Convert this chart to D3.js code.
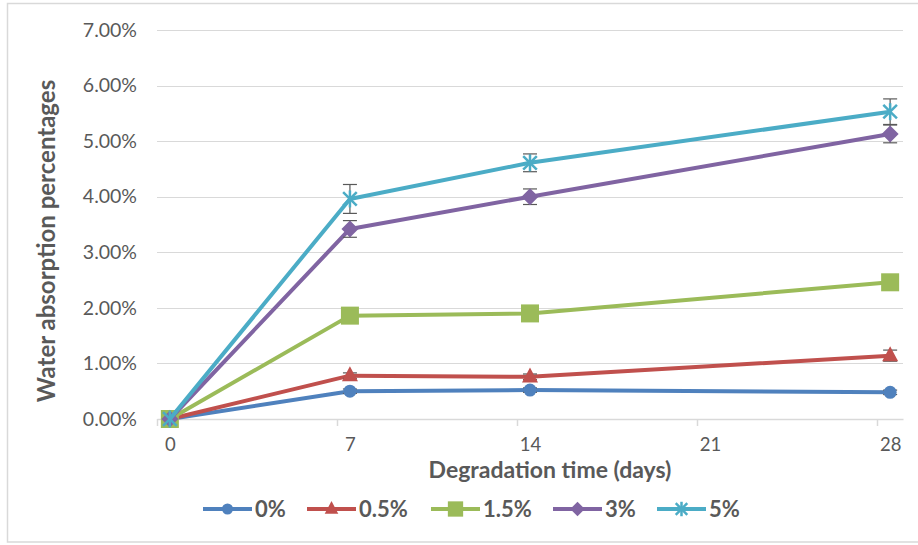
<!DOCTYPE html>
<html><head><meta charset="utf-8">
<script src="https://cdn.jsdelivr.net/npm/d3@7"></script>
<style>body{margin:0;background:#fff}svg{display:block}</style>
</head><body><svg id="c" width="918" height="545"></svg>
<script>
const days = [0, 7, 14, 28];
const xTicks = [0, 7, 14, 21, 28];
const yTicks = [0, 1, 2, 3, 4, 5, 6, 7];
const seriesNames = ["0%", "0.5%", "1.5%", "3%", "5%"];
const colors = ["#4F81BD", "#C0504D", "#9BBB59", "#8064A2", "#4BACC6"];
const markers = ["circle", "triangle", "square", "diamond", "star"];
const v0 = [0, 0.50, 0.52, 0.48];
const v05 = [0, 0.78, 0.76, 1.14];
const v15 = [0, 1.86, 1.90, 2.46];
const v3 = [0, 3.42, 4.00, 5.13];
const v5 = [0, 3.96, 4.61, 5.53];
const e0 = [0, 0.04, 0.04, 0.04];
const e05 = [0, 0.05, 0.05, 0.10];
const e15 = [0, 0.05, 0.05, 0.05];
const e3 = [0, 0.15, 0.14, 0.16];
const e5 = [0, 0.26, 0.16, 0.23];
const values = [v0, v05, v15, v3, v5];
const errors = [e0, e05, e15, e3, e5];

const svg = d3.select("#c");
const font = "Lato, 'Open Sans', sans-serif";
const grey = "#595959";

svg.append("rect").attr("x", 7.5).attr("y", 3.5).attr("width", 920).attr("height", 538.5)
  .attr("fill", "#fff").attr("stroke", "#d9d9d9").attr("stroke-width", 1.5);

const x = d3.scaleLinear().domain([-0.5, 28.5]).range([157, 903]);
const y = d3.scaleLinear().domain([0, 7]).range([419, 30]);

// gridlines
svg.append("g").selectAll("line").data(yTicks.slice(1)).join("line")
  .attr("x1", x(-0.5)).attr("x2", x(28.5))
  .attr("y1", d => Math.round(y(d)) + 0.5).attr("y2", d => Math.round(y(d)) + 0.5)
  .attr("stroke", "#d9d9d9").attr("stroke-width", 1);

// y axis labels
const yAxis = d3.axisLeft(y).tickValues(yTicks).tickSize(0).tickPadding(0)
  .tickFormat(d => d3.format(".2f")(d) + "%");
const gy = svg.append("g").attr("transform", "translate(137,0)").call(yAxis);
gy.select(".domain").remove();
gy.selectAll("text").attr("fill", grey).style("font-family", font).style("font-size", "19.5px");

// x axis
const xAxis = d3.axisBottom(x).tickValues(xTicks).tickSize(0).tickPadding(0).tickFormat(d3.format("d"));
const gx = svg.append("g").attr("transform", "translate(0,419)").call(xAxis);
gx.select(".domain").attr("stroke", "#d9d9d9").attr("stroke-width", 1.5);
gx.selectAll("text").attr("fill", grey).attr("dy", "0").attr("y", 31.5)
  .style("font-family", font).style("font-size", "18.5px");
svg.append("g").selectAll("line").data(xTicks).join("line")
  .attr("x1", d => Math.round(x(d - 0.5)) + 0.5).attr("x2", d => Math.round(x(d - 0.5)) + 0.5)
  .attr("y1", 419).attr("y2", 426).attr("stroke", "#d9d9d9").attr("stroke-width", 1.5);

// axis titles
svg.append("text").attr("x", 550).attr("y", 477.5).attr("text-anchor", "middle")
  .attr("fill", grey).style("font-family", font).style("font-weight", "bold").style("font-size", "23px")
  .text("Degradation time (days)");
svg.append("text").attr("transform", "translate(55,241) rotate(-90)").attr("text-anchor", "middle")
  .attr("fill", grey).style("font-family", font).style("font-weight", "bold").style("font-size", "24px")
  .text("Water absorption percentages");

function drawMarker(g, type, cx, cy, color, scale) {
  const s = scale || 1;
  if (type === "circle") {
    g.append("circle").attr("cx", cx).attr("cy", cy).attr("r", 6.5 * s).attr("fill", color);
  } else if (type === "triangle") {
    const h = 15 * s, w = 16 * s;
    g.append("path").attr("d", `M${cx},${cy - h * 0.62} L${cx + w / 2},${cy + h * 0.38} L${cx - w / 2},${cy + h * 0.38}Z`).attr("fill", color);
  } else if (type === "square") {
    const a = 18 * s;
    g.append("rect").attr("x", cx - a / 2).attr("y", cy - a / 2).attr("width", a).attr("height", a).attr("fill", color);
  } else if (type === "diamond") {
    const a = 8.5 * s;
    g.append("path").attr("d", `M${cx},${cy - a} L${cx + a},${cy} L${cx},${cy + a} L${cx - a},${cy}Z`).attr("fill", color);
  } else if (type === "star") {
    const a = 8.5 * s;
    const gg = g.append("g").attr("stroke", color).attr("stroke-width", 2.5);
    gg.append("line").attr("x1", cx).attr("x2", cx).attr("y1", cy - a).attr("y2", cy + a);
    const d = a * 0.8;
    gg.append("line").attr("x1", cx - d).attr("y1", cy - d).attr("x2", cx + d).attr("y2", cy + d);
    gg.append("line").attr("x1", cx - d).attr("y1", cy + d).attr("x2", cx + d).attr("y2", cy - d);
  }
}

const line = d3.line().x((d, i) => x(days[i])).y(d => y(d));
values.forEach((vals, si) => {
  const g = svg.append("g");
  g.append("path").datum(vals).attr("d", line).attr("fill", "none")
    .attr("stroke", colors[si]).attr("stroke-width", 4).attr("stroke-linejoin", "round");
  // error bars
  const eg = g.append("g").attr("stroke", grey).attr("stroke-width", 1.2);
  vals.forEach((v, i) => {
    const e = errors[si][i];
    if (!e) return;
    const cx = x(days[i]);
    eg.append("line").attr("x1", cx).attr("x2", cx).attr("y1", y(v - e)).attr("y2", y(v + e));
    [v - e, v + e].forEach(t => eg.append("line").attr("x1", cx - 7).attr("x2", cx + 7).attr("y1", y(t)).attr("y2", y(t)));
  });
  vals.forEach((v, i) => drawMarker(g, markers[si], x(days[i]), y(v), colors[si]));
});

// legend
const legX = [203, 307, 431, 553, 657];
const lg = svg.append("g");
seriesNames.forEach((n, i) => {
  const x0 = legX[i], ly = 509;
  lg.append("line").attr("x1", x0).attr("x2", x0 + 49).attr("y1", ly).attr("y2", ly)
    .attr("stroke", colors[i]).attr("stroke-width", 4);
  drawMarker(lg, markers[i], x0 + 24.5, ly, colors[i], 0.85);
  lg.append("text").attr("x", x0 + 52).attr("y", ly + 8).attr("fill", grey)
    .style("font-family", font).style("font-weight", "bold").style("font-size", "22px").text(n);
});
</script></body></html>
